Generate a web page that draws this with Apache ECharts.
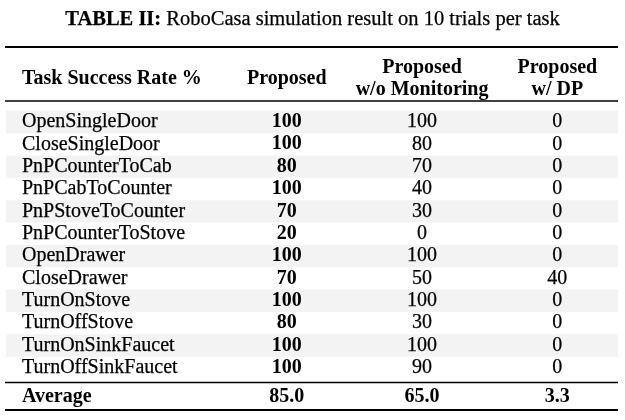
<!DOCTYPE html>
<html>
<head>
<meta charset="utf-8">
<script src="https://cdn.jsdelivr.net/npm/echarts@6/dist/echarts.min.js"></script>
<style>
  html, body { margin: 0; padding: 0; background: #fff; }
  #table2 { width: 625px; height: 420px; }
</style>
</head>
<body>
<div id="table2"></div>
<script>
// table content
var columns = ['task', 'proposed', 'woMonitoring', 'withDP'];
var headers = ['Task Success Rate %', 'Proposed', 'Proposed\nw/o Monitoring', 'Proposed\nw/ DP'];
var tasks = ['OpenSingleDoor', 'CloseSingleDoor', 'PnPCounterToCab', 'PnPCabToCounter',
  'PnPStoveToCounter', 'PnPCounterToStove', 'OpenDrawer', 'CloseDrawer',
  'TurnOnStove', 'TurnOffStove', 'TurnOnSinkFaucet', 'TurnOffSinkFaucet'];
var proposed = [100, 100, 80, 100, 70, 20, 100, 70, 100, 80, 100, 100];
var woMonitoring = [100, 80, 70, 40, 30, 0, 100, 50, 100, 30, 100, 90];
var withDP = [0, 0, 0, 0, 0, 0, 0, 40, 0, 0, 0, 0];
var averageRow = ['Average', '85.0', '65.0', '3.3'];

var FONT = '"Liberation Serif", "Times New Roman", serif';
var FS = 20;
var LEFT_X = 22;   // left edge of the task column text
var RULE_L = 5, RULE_R = 618;

// cells: [col, row, text, bold]
var headerCells = headers.map(function (h, j) { return [j, 0, h, 1]; });
var bodyCells = [];
tasks.forEach(function (t, i) {
  bodyCells.push([0, i, t, 0]);
  bodyCells.push([1, i, String(proposed[i]), 1]);
  bodyCells.push([2, i, String(woMonitoring[i]), 0]);
  bodyCells.push([3, i, String(withDP[i]), 0]);
});
var avgCells = averageRow.map(function (v, j) { return [j, 0, v, 1]; });
var bands = tasks.map(function (t, i) { return [0, i]; }).filter(function (d) { return d[1] % 2 === 0; });

function renderCell(params, api) {
  var col = api.value(0);
  var p = api.coord([col, api.value(1)]);
  var d = params.dataIndex;
  var item = params.seriesName === 'header' ? headerCells[d]
    : params.seriesName === 'average' ? avgCells[d] : bodyCells[d];
  return {
    type: 'text',
    style: {
      text: item[2],
      x: col === 0 ? LEFT_X : p[0],
      y: p[1],
      align: col === 0 ? 'left' : 'center',
      verticalAlign: 'middle',
      fontFamily: FONT,
      fontSize: FS,
      fontWeight: item[3] ? 'bold' : 'normal',
      lineHeight: 22,
      fill: '#000',
      stroke: '#000',
      lineWidth: item[3] ? 0 : 0.25
    }
  };
}

function renderBand(params, api) {
  var p = api.coord([0, api.value(1)]);
  var h = api.size([0, 1])[1];
  return {
    type: 'rect',
    shape: { x: RULE_L + 1, y: p[1] - h / 2, width: RULE_R - RULE_L - 1, height: h },
    style: { fill: '#f3f3f3' }
  };
}

function rule(y, w) {
  return { type: 'line', shape: { x1: RULE_L, y1: y, x2: RULE_R, y2: y }, style: { stroke: '#000', lineWidth: w }, z: 10 };
}

var gridX = { left: 83.8, width: 548 };
var chart = echarts.init(document.getElementById('table2'), null, { renderer: 'canvas' });
chart.setOption({
  backgroundColor: '#fff',
  animation: false,
  title: {
    left: 'center',
    top: 4,
    text: '{b|TABLE II:} RoboCasa simulation result on 10 trials per task',
    textStyle: {
      fontFamily: FONT, fontSize: 20.5, fontWeight: 'normal', color: '#000',
      textBorderColor: '#000', textBorderWidth: 0.25,
      rich: { b: { fontFamily: FONT, fontSize: 20.5, fontWeight: 'bold', color: '#000' } }
    }
  },
  grid: [
    Object.assign({ top: 57, height: 44 }, gridX),
    Object.assign({ top: 110.8, height: 268.2 }, gridX),
    Object.assign({ top: 385, height: 24 }, gridX)
  ],
  xAxis: [0, 1, 2].map(function (g) {
    return { type: 'category', data: columns, gridIndex: g, show: false };
  }),
  yAxis: [
    { type: 'category', data: ['header'], gridIndex: 0, show: false, inverse: true },
    { type: 'category', data: tasks, gridIndex: 1, show: false, inverse: true },
    { type: 'category', data: ['average'], gridIndex: 2, show: false, inverse: true }
  ],
  graphic: [rule(47, 2), rule(101, 1.3), rule(382.5, 1.3), rule(410, 2)],
  series: [
    { name: 'bands', type: 'custom', xAxisIndex: 1, yAxisIndex: 1, data: bands, renderItem: renderBand, clip: false, silent: true, z: 1 },
    { name: 'header', type: 'custom', xAxisIndex: 0, yAxisIndex: 0, data: headerCells.map(function (c) { return [c[0], c[1]]; }), renderItem: renderCell, clip: false, z: 2 },
    { name: 'body', type: 'custom', xAxisIndex: 1, yAxisIndex: 1, data: bodyCells.map(function (c) { return [c[0], c[1]]; }), renderItem: renderCell, clip: false, z: 2 },
    { name: 'average', type: 'custom', xAxisIndex: 2, yAxisIndex: 2, data: avgCells.map(function (c) { return [c[0], c[1]]; }), renderItem: renderCell, clip: false, z: 2 }
  ]
});
</script>
</body>
</html>
